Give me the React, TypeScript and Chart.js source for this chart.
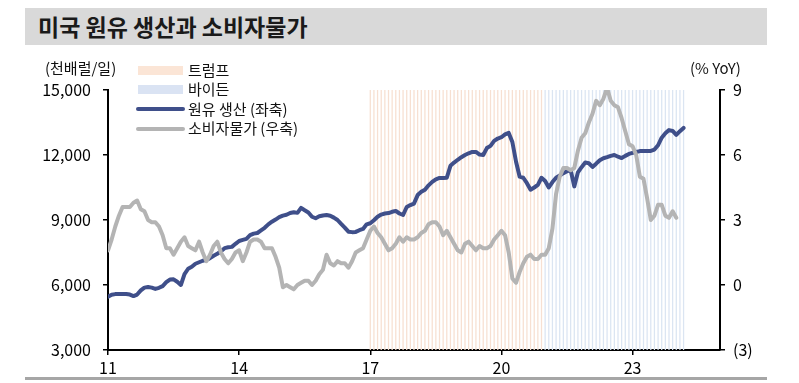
import React, { useEffect, useRef } from "react";
import { Chart, registerables } from "chart.js";

Chart.register(...registerables);

const FONT = "'Noto Sans CJK KR', 'Noto Sans', sans-serif";

// month index 0 = Jan 2011
const xTickMonths = [0, 36, 72, 108, 144];
const xTickLabels = ["11", "14", "17", "20", "23"];
const xMaxMonth = 168;

const leftTicks = [3000, 6000, 9000, 12000, 15000];
const rightTicks = [-3, 0, 3, 6, 9];

const titleText = "미국 원유 생산과 소비자물가";
const leftUnit = "(천배럴/일)";
const rightUnit = "(% YoY)";
const legendTrump = "트럼프";
const legendBiden = "바이든";
const legendOil = "원유 생산 (좌축)";
const legendCpi = "소비자물가 (우축)";

// US crude oil production, thousand barrels/day (monthly, Jan 2011 - Mar 2024)
const oilProduction = [
  5460, 5550, 5580, 5585, 5590, 5585, 5560, 5490, 5560, 5750, 5880, 5910,
  5880, 5820, 5870, 5950, 6130, 6250, 6260, 6150, 6000, 6500, 6750, 6840,
  6980, 7050, 7120, 7160, 7240, 7350, 7440, 7560, 7700, 7740, 7760, 7900,
  8030, 8080, 8130, 8300, 8370, 8400, 8520, 8640, 8800, 8920, 9020, 9130,
  9200, 9240, 9320, 9360, 9330, 9560, 9450, 9350, 9150, 9080, 9170, 9210,
  9230, 9200, 9110, 9000, 8820, 8650, 8460, 8440, 8450, 8530, 8590, 8800,
  8850, 8990, 9150, 9250, 9300, 9320, 9380, 9420, 9300, 9230, 9600, 9690,
  9760, 10150, 10300, 10400, 10600, 10760, 10880, 10940, 10940, 10950, 11500, 11650,
  11780, 11900, 12000, 12080, 12140, 12140, 12020, 12000, 12320, 12420, 12650, 12760,
  12820, 12950, 13020, 12600, 11700, 11000, 10950, 10700, 10400, 10500, 10620, 10950,
  10800, 10500, 10750, 10950, 11050, 11160, 11250, 11310, 10550, 11200, 11440, 11650,
  11620, 11450, 11600, 11760, 11850, 11900, 11960, 12000, 11920, 11860, 11960, 12050,
  12100, 12140, 12180, 12190, 12190, 12190, 12250, 12450, 12800, 13000, 13150, 13110,
  12930, 13100, 13250,
];

// US CPI, % YoY (monthly, Jan 2011 - Jan 2024)
const cpiYoY = [
  1.6, 2.1, 2.7, 3.2, 3.6, 3.6, 3.6, 3.8, 3.9, 3.5, 3.4, 3.0,
  2.9, 2.9, 2.7, 2.3, 1.7, 1.7, 1.4, 1.7, 2.0, 2.2, 1.8, 1.7,
  1.6, 2.0, 1.5, 1.1, 1.4, 1.8, 2.0, 1.5, 1.2, 1.0, 1.2, 1.5,
  1.6, 1.1, 1.5, 2.0, 2.1, 2.1, 2.0, 1.7, 1.7, 1.7, 1.3, 0.8,
  -0.1, 0.0, -0.1, -0.2, 0.0, 0.1, 0.2, 0.2, 0.0, 0.2, 0.5, 0.7,
  1.4, 1.0, 0.9, 1.1, 1.0, 1.0, 0.8, 1.1, 1.5, 1.6, 1.7, 2.1,
  2.5, 2.7, 2.4, 2.2, 1.9, 1.6, 1.7, 1.9, 2.2, 2.0, 2.2, 2.1,
  2.1, 2.2, 2.4, 2.5, 2.8, 2.9, 2.9, 2.7, 2.3, 2.5, 2.2, 1.9,
  1.6, 1.5, 1.9, 2.0, 1.8, 1.6, 1.8, 1.7, 1.7, 1.8, 2.1, 2.3,
  2.5, 2.3, 1.5, 0.3, 0.1, 0.6, 1.0, 1.3, 1.4, 1.2, 1.2, 1.4,
  1.4, 1.7, 2.6, 4.2, 5.0, 5.4, 5.4, 5.3, 5.4, 6.2, 6.8, 7.0,
  7.5, 7.9, 8.5, 8.3, 8.6, 9.1, 8.5, 8.3, 8.2, 7.7, 7.1, 6.5,
  6.4, 6.0, 5.0, 4.9, 4.0, 3.0, 3.2, 3.7, 3.7, 3.2, 3.1, 3.4,
  3.1,
];

// presidential terms in month indices [start, end)
const trumpTerm = [72, 120];
const bidenTerm = [120, 159];
const shadeTop = 15000;

const BLUE = "#3f4f8a";
const GRAY = "#b4b4b4";
const TRUMP_FILL = "#f7e0d2";
const BIDEN_FILL = "#dbe5f2";
const TRUMP_SWATCH = "#fbe5d6";
const BIDEN_SWATCH = "#dae3f3";

function termBars(term: number[]) {
  const out: { x: number; y: number }[] = [];
  for (let m = term[0]; m < term[1]; m++) out.push({ x: m, y: shadeTop });
  return out;
}

export default function App() {
  const ref = useRef<HTMLCanvasElement>(null);

  useEffect(() => {
    const canvas = ref.current;
    if (!canvas) return;
    Chart.defaults.font.family = FONT;
    Chart.defaults.color = "#000";

    const tickGrid = {
      display: true,
      drawOnChartArea: false,
      drawTicks: true,
      offset: false,
      tickLength: 5,
      color: "#000",
      lineWidth: 1.5,
    };
    const border = { display: true, color: "#000", width: 2 };

    const chart = new Chart(canvas, {
      type: "line",
      data: {
        datasets: [
          {
            type: "line",
            label: legendCpi,
            data: cpiYoY.map((v, i) => ({ x: i, y: v })),
            yAxisID: "y1",
            borderColor: GRAY,
            borderWidth: 4,
            pointRadius: 0,
            borderJoinStyle: "round",
            borderCapStyle: "round",
            tension: 0,
            order: 0,
          } as any,
          {
            type: "line",
            label: legendOil,
            data: oilProduction.map((v, i) => ({ x: i, y: v })),
            yAxisID: "y",
            borderColor: BLUE,
            borderWidth: 4,
            pointRadius: 0,
            borderJoinStyle: "round",
            borderCapStyle: "round",
            tension: 0,
            order: 1,
          },
          {
            type: "bar",
            label: legendTrump,
            data: termBars(trumpTerm),
            yAxisID: "y",
            backgroundColor: TRUMP_FILL,
            barPercentage: 0.35,
            categoryPercentage: 1,
            grouped: false,
            order: 2,
          },
          {
            type: "bar",
            label: legendBiden,
            data: termBars(bidenTerm),
            yAxisID: "y",
            backgroundColor: BIDEN_FILL,
            barPercentage: 0.35,
            categoryPercentage: 1,
            grouped: false,
            order: 3,
          },
        ],
      },
      options: {
        responsive: false,
        animation: false,
        devicePixelRatio: 1,
        layout: { padding: { top: 90, left: 0, right: 0, bottom: 0 } },
        plugins: {
          legend: { display: false },
          tooltip: { enabled: false },
          title: { display: false },
        },
        scales: {
          x: {
            type: "linear",
            min: 0,
            max: xMaxMonth,
            offset: false,
            grid: tickGrid,
            border,
            afterBuildTicks: (s: any) => {
              s.ticks = xTickMonths.map((v) => ({ value: v }));
            },
            afterFit: (s: any) => {
              s.height = 33;
            },
            ticks: {
              font: { size: 16 },
              color: "#000",
              padding: 3,
              maxRotation: 0,
              autoSkip: false,
              callback: (v: any) => {
                const i = xTickMonths.indexOf(Number(v));
                return i >= 0 ? xTickLabels[i] : "";
              },
            },
          },
          y: {
            type: "linear",
            position: "left",
            min: 3000,
            max: 15000,
            grid: tickGrid,
            border,
            afterBuildTicks: (s: any) => {
              s.ticks = leftTicks.map((v) => ({ value: v }));
            },
            afterFit: (s: any) => {
              s.width = 108;
            },
            ticks: {
              font: { size: 16 },
              color: "#000",
              padding: 12,
              callback: (v: any) => Number(v).toLocaleString("en-US"),
            },
          },
          y1: {
            type: "linear",
            position: "right",
            min: -3,
            max: 9,
            grid: tickGrid,
            border,
            afterBuildTicks: (s: any) => {
              s.ticks = rightTicks.map((v) => ({ value: v }));
            },
            afterFit: (s: any) => {
              s.width = 79;
            },
            ticks: {
              font: { size: 16 },
              color: "#000",
              padding: 8,
              callback: (v: any) => (Number(v) < 0 ? `(${-Number(v)})` : `${v}`),
            },
          },
        },
      } as any,
    });
    return () => chart.destroy();
  }, []);

  const txt: React.CSSProperties = {
    position: "absolute",
    fontFamily: FONT,
    color: "#111",
    whiteSpace: "nowrap",
    lineHeight: 1,
  };

  const legendRows = [
    { label: legendTrump, kind: "patch", color: TRUMP_SWATCH, y: 70 },
    { label: legendBiden, kind: "patch", color: BIDEN_SWATCH, y: 89.5 },
    { label: legendOil, kind: "line", color: BLUE, y: 109 },
    { label: legendCpi, kind: "line", color: GRAY, y: 128.5 },
  ];

  return (
    <div
      style={{
        position: "fixed",
        left: 0,
        top: 0,
        width: 799,
        height: 383,
        background: "#fff",
        overflow: "hidden",
      }}
    >
      <canvas
        ref={ref}
        width={799}
        height={383}
        style={{ position: "absolute", left: 0, top: 0, width: 799, height: 383 }}
      />
      <div
        style={{
          position: "absolute",
          left: 25,
          top: 8,
          width: 742,
          height: 37,
          background: "#d9d9d9",
        }}
      />
      <div
        style={{
          ...txt,
          left: 38,
          top: 8,
          height: 37,
          lineHeight: "37px",
          fontSize: 23,
          fontWeight: 700,
          color: "#1a1a1a",
        }}
      >
        {titleText}
      </div>
      <div
        style={{
          position: "absolute",
          left: 25,
          top: 377,
          width: 742,
          height: 3,
          background: "#a6a6a6",
        }}
      />
      <div style={{ ...txt, left: 45, top: 60, fontSize: 15 }}>{leftUnit}</div>
      <div style={{ ...txt, left: 690, top: 60, fontSize: 15 }}>{rightUnit}</div>
      {legendRows.map((r) => (
        <React.Fragment key={r.label}>
          {r.kind === "patch" ? (
            <div
              style={{
                position: "absolute",
                left: 138,
                top: r.y - 4.5,
                width: 45,
                height: 9,
                background: r.color,
              }}
            />
          ) : (
            <div
              style={{
                position: "absolute",
                left: 136,
                top: r.y - 2,
                width: 49,
                height: 4,
                borderRadius: 2,
                background: r.color,
              }}
            />
          )}
          <div style={{ ...txt, left: 188, top: r.y - 8.5, fontSize: 15 }}>{r.label}</div>
        </React.Fragment>
      ))}
    </div>
  );
}
